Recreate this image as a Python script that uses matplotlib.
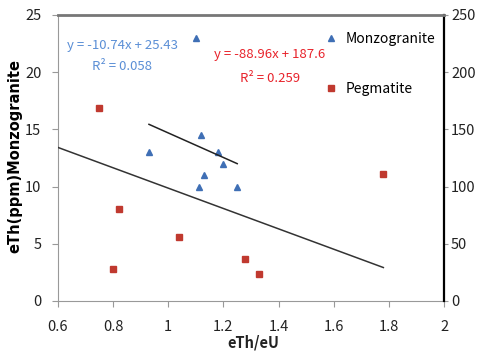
import matplotlib
matplotlib.use("Agg")
import matplotlib.pyplot as plt
import numpy as np

plt.rcParams['font.family'] = ['Noto Sans CJK SC', 'DejaVu Sans']

# Monzogranite points (left axis)
mz_x = [1.10, 0.93, 1.12, 1.18, 1.20, 1.13, 1.11, 1.25]
mz_y = [23.0, 13.0, 14.5, 13.0, 12.0, 11.0, 10.0, 10.0]
# Pegmatite points (right axis)
pg_x = [0.75, 0.82, 0.80, 1.04, 1.28, 1.33, 1.78]
pg_y = [169, 80, 28, 56, 37, 24, 111]

# trendline coefficients as printed on the chart
mz_fit = [-10.74, 25.43]
pg_fit = [-88.96, 187.6]
mz_span = [0.93, 1.25]
pg_span = [0.6, 1.78]

fig = plt.figure(figsize=(4.78, 3.52), dpi=100)
ax = fig.add_axes([0.1213, 0.1449, 0.8076, 0.8125])
ax2 = ax.twinx()

ax.plot(mz_x, mz_y, '^', color='#3f6fb5', markersize=4.5, linestyle='none', label='Monzogranite')
ax2.plot(pg_x, pg_y, 's', color='#c0392f', markersize=4, linestyle='none', label='Pegmatite')

xs = np.array(mz_span)
ax.plot(xs, np.polyval(mz_fit, xs), color='#222222', lw=1.1)
xs = np.array(pg_span)
ax2.plot(xs, np.polyval(pg_fit, xs), color='#333333', lw=1.1)

ax.set_xlim(0.6, 2)
ax.set_ylim(0, 25)
ax2.set_ylim(0, 250)
ax.set_xticks([0.6, 0.8, 1, 1.2, 1.4, 1.6, 1.8, 2])
ax.set_xticklabels(['0.6', '0.8', '1', '1.2', '1.4', '1.6', '1.8', '2'])
ax.set_yticks([0, 5, 10, 15, 20, 25])
ax2.set_yticks([0, 50, 100, 150, 200, 250])

for a in (ax, ax2):
    a.tick_params(labelsize=10.5, length=4, width=0.8, color='#999999', labelcolor='#222222')
    for s in a.spines.values():
        s.set_visible(False)
ax.tick_params(axis='x', pad=10)
ax.tick_params(axis='y', pad=8)
ax2.tick_params(axis='y', length=3, pad=2)
ax.spines['left'].set_visible(True)
ax.spines['left'].set_color('#999999')
ax.spines['bottom'].set_visible(True)
ax.spines['bottom'].set_color('#999999')
ax2.spines['top'].set_visible(True)
ax2.spines['top'].set_color('#777777')
ax2.spines['top'].set_linewidth(2)
ax2.spines['right'].set_visible(True)
ax2.spines['right'].set_color('black')
ax2.spines['right'].set_linewidth(1.6)

fig.text(0.031, 0.557, 'eTh(ppm)Monzogranite', fontsize=10.5, fontweight='bold', family='DejaVu Sans',
         rotation=90, ha='center', va='center')
fig.text(0.530, 0.028, 'eTh/eU', fontsize=10.5, ha='center', va='center', color='#222222', fontweight='bold')

fig.text(0.257, 0.872, 'y = -10.74x + 25.43', color='#5b8fd6', fontsize=9.5, ha='center', va='center')
fig.text(0.256, 0.810, 'R² = 0.058', color='#5b8fd6', fontsize=9.5, ha='center', va='center')
fig.text(0.565, 0.844, 'y = -88.96x + 187.6', color='#e8232b', fontsize=9.5, ha='center', va='center')
fig.text(0.565, 0.778, 'R² = 0.259', color='#e8232b', fontsize=9.5, ha='center', va='center')

h1, l1 = ax.get_legend_handles_labels()
h2, l2 = ax2.get_legend_handles_labels()
ax2.legend(h1 + h2, l1 + l2, loc='upper left', bbox_to_anchor=(0.648, 0.944), bbox_transform=fig.transFigure,
           frameon=False, fontsize=10, labelspacing=2.55, handletextpad=0.45, handlelength=1.2)

fig.savefig('out.png', dpi=100)
